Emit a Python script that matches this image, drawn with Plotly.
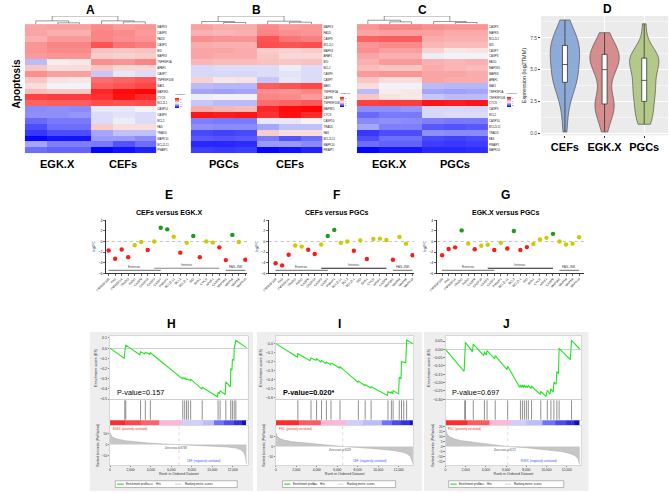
import plotly.graph_objects as go

W, H = 669, 493
FONT = "Liberation Sans"

# ---------------- data ----------------
genes = ["TNFRSF10B", "FAS", "TNFRSF1A", "TRADD", "FADD", "CASP8", "CASP10", "CASP3", "CASP7",
         "PMAIP1", "BCL2L11", "BCL2", "BCL2L1", "BID", "BAK1", "CYCS", "APAF1", "CASP9",
         "MAP3K5", "MAPK8", "MAPK9", "MAPK10"]

# log2TMM expression, 3 replicates per group, in the order of `genes`
egk_expr = [[5.4, 4.9, 4.8], [1.4, 2.0, 2.0], [3.4, 4.7, 4.8], [1.0, 1.4, 1.4], [5.8, 6.2, 6.2],
            [6.0, 5.8, 5.8], [2.5, 2.6, 2.5], [6.3, 6.6, 6.6], [6.4, 6.1, 6.1], [2.0, 1.8, 1.8],
            [3.0, 2.3, 2.3], [1.9, 2.2, 2.2], [7.2, 7.3, 7.3], [6.3, 6.5, 6.5], [5.0, 4.4, 4.4],
            [7.8, 7.9, 7.9], [5.4, 5.0, 5.0], [2.6, 2.6, 2.7], [5.6, 5.4, 5.4], [6.2, 6.3, 6.3],
            [6.0, 6.1, 6.1], [0.1, 0.4, 0.4]]
cef_expr = [[7.0, 7.2, 7.4], [5.3, 5.0, 5.0], [6.4, 6.3, 6.6], [3.0, 3.5, 3.5], [6.6, 6.4, 6.3],
            [6.6, 6.5, 6.2], [4.2, 4.2, 4.6], [7.5, 6.9, 6.7], [3.6, 4.2, 4.0], [0.1, 0.3, 0.6],
            [2.2, 1.5, 2.0], [4.0, 4.3, 4.0], [7.6, 7.5, 7.6], [5.5, 5.4, 5.5], [7.3, 7.5, 7.7],
            [8.1, 8.7, 8.2], [5.4, 5.1, 5.1], [4.0, 4.1, 4.0], [8.3, 8.8, 8.9], [5.3, 5.2, 5.3],
            [6.5, 6.2, 6.3], [2.8, 2.8, 2.5]]
pgc_expr = [[3.6, 3.4, 3.4], [1.3, 1.2, 1.3], [3.0, 2.9, 3.0], [2.6, 2.5, 2.5], [5.8, 5.7, 5.8],
            [4.3, 4.4, 4.4], [2.3, 2.2, 2.2], [6.4, 6.3, 6.3], [5.2, 4.8, 4.9], [1.1, 1.0, 1.1],
            [1.6, 1.5, 1.6], [3.9, 4.0, 4.0], [5.9, 5.8, 5.8], [5.7, 5.6, 5.6], [3.4, 3.3, 3.3],
            [8.6, 8.5, 8.6], [6.0, 5.9, 5.9], [3.9, 3.9, 3.9], [5.9, 5.7, 5.6], [6.0, 6.0, 5.9],
            [6.1, 5.9, 5.9], [0.7, 0.7, 0.8]]

rows_A = ["MAPK9", "CASP8", "FADD", "CASP3", "BID", "MAPK8", "TNFRSF1A", "APAF1", "CASP7", "TNFRSF10B",
          "BAK1", "MAP3K5", "CYCS", "BCL2L1", "CASP10", "CASP9", "BCL2", "FAS", "TRADD", "MAPK10",
          "BCL2L11", "PMAIP1"]
rows_B = ["MAPK9", "FADD", "CASP3", "BCL2L1", "MAPK8", "APAF1", "BID", "BCL2", "CASP9", "CASP7",
          "BAK1", "TNFRSF1A", "CASP8", "TNFRSF10B", "MAP3K5", "CYCS", "CASP10", "TRADD", "FAS",
          "BCL2L11", "MAPK10", "PMAIP1"]
rows_C = ["CASP3", "MAPK9", "BCL2L1", "BID", "CASP7", "CASP8", "FADD", "MAP3K5", "MAPK8", "APAF1",
          "BAK1", "TNFRSF1A", "TNFRSF10B", "CYCS", "CASP9", "BCL2", "CASP10", "BCL2L11", "TRADD",
          "FAS", "PMAIP1", "MAPK10"]

# column dendrograms (left node, right node, relative height)
links_A = [(1, 2, 0.16), (0, 6, 0.40), (4, 5, 0.28), (3, 8, 0.40), (7, 9, 1.0)]
links_B = [(1, 2, 0.20), (0, 6, 0.32), (4, 5, 0.24), (3, 8, 0.36), (7, 9, 1.0)]
links_C = [(1, 2, 0.28), (0, 6, 0.48), (4, 5, 0.20), (3, 8, 0.32), (7, 9, 1.0)]

violin_groups = ["CEFs", "EGK.X", "PGCs"]

fc_cef_egk = [-1.7, -3.25, -1.5, -2.95, -0.7, -0.1, -1.6, 0.0, 2.6, 2.3, 0.9, -2.1, -0.25, 1.05,
              -2.95, 0.0, -0.2, -1.1, -3.5, 1.25, -0.1, -3.45]
fc_cef_pgc = [-4.1, -4.5, -2.5, -0.75, -0.95, -1.55, -2.35, -0.55, 1.05, 2.2, -0.25, 0.0, -1.75, 0.2,
              -3.3, 0.5, 0.55, 0.3, -3.45, 0.85, -0.4, -2.6]
fc_egk_pgc = [-2.6, -1.4, -1.1, 2.1, -0.4, -1.45, -0.8, -0.6, -1.6, -0.25, -1.3, 2.0, -1.6, -1.05,
              -0.45, 0.4, 0.7, 1.45, 0.0, -0.55, -0.4, 0.8]
fc_titles = ["CEFs versus EGK.X", "CEFs versus PGCs", "EGK.X versus PGCs"]
path_names = ["Extrinsic", "Intrinsic", "FAS-JNK"]
path_start = [0, 7, 18]
path_end = [8, 17, 21]

# GSEA H (CEFs vs EGK.X)
H_es_rank = [0, 1380, 1440, 1540, 2910, 2980, 3390, 3450, 3880, 3940, 7050, 7110, 7260, 7300, 7440, 7480,
             7830, 7880, 8950, 9010, 10500, 10560, 10700, 10760, 11260, 11320, 11760, 11800, 11920, 11960,
             12100, 12140, 12300, 13330]
H_es_val = [0.0, -0.098, -0.035, 0.03, -0.065, -0.035, -0.055, -0.04, -0.06, -0.045, -0.30, -0.29, -0.30,
            -0.29, -0.31, -0.30, -0.318, -0.305, -0.40, -0.385, -0.478, -0.435, -0.445, -0.42, -0.455,
            -0.33, -0.38, -0.20, -0.215, -0.11, -0.12, 0.0, 0.075, 0.005]
H_hits = [1440, 1540, 2980, 3450, 3940, 7110, 7300, 7480, 7650, 7880, 9010, 10560, 10760, 11320, 11800,
          11960, 12140, 12300]
H_m_rank = [0, 150, 400, 800, 1500, 2500, 3500, 4500, 5500, 6738, 8000, 9500, 10500, 11500, 12300, 12800,
            13100, 13250, 13330]
H_m_val = [55, 38, 30, 24, 18, 12, 8, 5, 2.5, 0, -3, -6, -8, -11, -16, -24, -38, -60, -90]
H_bar_edges = [0, 1500, 3000, 4750, 7050, 9050, 10200, 11150, 12100, 12900, 13330]
H_bar_level = [1.0, 0.94, 0.88, 0.72, 0.42, 0.36, 0.22, 0.15, 0.08, 0.0]
H_zero = 6738
H_pval = "P-value=0.157"
H_classes = ["EGKX", "CEF"]

# GSEA I (CEFs vs PGCs)
I_es_rank = [0, 2087, 2151, 3339, 3435, 3916, 3980, 4398, 4460, 4880, 4940, 5330, 5390, 6240, 6270, 8000,
             8060, 8670, 8730, 9250, 9310, 10900, 10960, 11250, 11290, 11430, 11460, 12000, 12060, 12230,
             12280, 12700, 12780, 13390]
I_es_val = [0.0, -0.148, -0.111, -0.189, -0.159, -0.185, -0.167, -0.204, -0.185, -0.222, -0.204, -0.233,
            -0.215, -0.27, -0.255, -0.426, -0.415, -0.463, -0.452, -0.49, -0.478, -0.574, -0.53, -0.548,
            -0.53, -0.555, -0.52, -0.556, -0.37, -0.39, -0.2, -0.21, 0.04, 0.0]
I_hits = [2151, 3435, 3980, 4460, 4940, 5390, 6270, 8060, 8730, 9310, 10960, 11290, 11460, 12060, 12280,
          12500, 12780]
I_m_rank = [0, 150, 400, 800, 1500, 2500, 3500, 4500, 5500, 6528, 8000, 9500, 10500, 11500, 12300, 12800,
            13150, 13300, 13390]
I_m_val = [14, 10, 8, 6.5, 5, 3.8, 2.8, 2, 1, 0, -1, -2, -2.8, -4, -5.5, -7, -10, -14, -17]
I_bar_edges = [0, 2200, 4400, 6800, 8500, 10340, 11300, 12200, 13070, 13390]
I_bar_level = [1.0, 0.9, 0.72, 0.42, 0.36, 0.22, 0.14, 0.08, 0.0]
I_zero = 6528
I_pval = "P-value=0.020*"
I_classes = ["PGC", "CEF"]

# GSEA J (EGK.X vs PGCs)
J_es_rank = [0, 1848, 1912, 1977, 2658, 2755, 3792, 3857, 4052, 4117, 4862, 4927, 6094, 6159, 7358, 7423,
             7553, 7618, 7747, 7812, 7942, 8006, 8136, 8201, 8460, 8525, 9368, 9433, 9951, 10081, 10340,
             10438, 10665, 10729, 10956, 11021, 11183, 11248, 12350, 12480, 13290]
J_es_val = [0.0, -0.132, -0.048, 0.042, -0.014, 0.032, -0.038, -0.014, -0.034, -0.008, -0.058, -0.038,
            -0.122, -0.102, -0.23, -0.214, -0.23, -0.214, -0.23, -0.214, -0.23, -0.218, -0.23, -0.218,
            -0.234, -0.222, -0.27, -0.254, -0.282, -0.246, -0.27, -0.238, -0.258, -0.198, -0.21, -0.134,
            -0.146, 0.006, -0.062, 0.054, 0.002]
J_hits = [1912, 1977, 2755, 3857, 4117, 4927, 6159, 7423, 7618, 7812, 8006, 8201, 8525, 9433, 10081,
          10438, 10729, 11021, 11248, 12480]
J_m_rank = [0, 150, 400, 800, 1500, 2500, 3500, 4500, 5300, 6172, 8000, 9500, 10500, 11500, 12300, 12800,
            13100, 13230, 13290]
J_m_val = [19, 13, 10, 8, 6, 4.5, 3.3, 2.2, 1.1, 0, -1.2, -2.5, -3.5, -5, -7, -9, -12, -15, -18]
J_bar_edges = [0, 2200, 4380, 6480, 8000, 9560, 10860, 12000, 12800, 13290]
J_bar_level = [1.0, 0.9, 0.72, 0.42, 0.36, 0.22, 0.14, 0.08, 0.0]
J_zero = 6172
J_pval = "P-value=0.697"
J_classes = ["PGC", "EGKX"]

rank_ticks = [0, 2000, 4000, 6000, 8000, 10000, 12000]

# ---------------- helpers ----------------
traces, shapes, annots = [], [], []
axes = {}
counter = [0]
BASE = dict(showgrid=False, zeroline=False, showticklabels=False, ticks='', showline=False, fixedrange=True,
            autorange=False)


def new_axes(x0, x1, y0, y1, xkw=None, ykw=None):
    counter[0] += 1
    s = '' if counter[0] == 1 else str(counter[0])
    xa = dict(BASE); xa.update(domain=[x0 / W, x1 / W], anchor='y' + s); xa.update(xkw or {})
    ya = dict(BASE); ya.update(domain=[1 - y1 / H, 1 - y0 / H], anchor='x' + s); ya.update(ykw or {})
    axes['xaxis' + s] = xa
    axes['yaxis' + s] = ya
    return 'x' + s, 'y' + s


def text(x, y, s, size, color='#000', bold=False, angle=0, xa='center', ya='middle', xref=None, yref=None):
    a = dict(text=f"<b>{s}</b>" if bold else s, showarrow=False,
             font=dict(family=FONT, size=size, color=color), textangle=angle,
             xanchor=xa, yanchor=ya, borderpad=0)
    a.update(x=x, xref=xref) if xref else a.update(x=x / W, xref='paper')
    a.update(y=y, yref=yref) if yref else a.update(y=1 - y / H, yref='paper')
    annots.append(a)


def prect(x0, y0, x1, y1, fill, line=None, lw=0):
    shapes.append(dict(type='rect', xref='paper', yref='paper', x0=x0 / W, x1=x1 / W, y0=1 - y1 / H,
                       y1=1 - y0 / H, fillcolor=fill, line=dict(color=line or fill, width=lw), layer='below'))


def pline(x0, y0, x1, y1, color, width):
    shapes.append(dict(type='line', xref='paper', yref='paper', x0=x0 / W, x1=x1 / W, y0=1 - y0 / H,
                       y1=1 - y1 / H, line=dict(color=color, width=width), layer='above'))


# ---------------- heatmaps A, B, C ----------------
HEAT_CS = [[0, '#0000ff'], [0.5, '#f8f8f8'], [1, '#ff0000']]


def heat_panel(x0, x1, left, right, groups, rows, links, cbx, cby, letter):
    xa, ya = new_axes(x0, x1, 15, 153.3, dict(range=[-0.5, 5.5]),
                      dict(range=[21.5, -1.9], side='right', showticklabels=True,
                           tickvals=list(range(len(rows))), ticktext=rows,
                           tickfont=dict(family=FONT, size=2.8, color='#222')))
    idx = [genes.index(g) for g in rows]
    z = [left[i] + right[i] for i in idx]
    traces.append(go.Heatmap(
        z=z, x=list(range(6)), y=list(range(len(rows))), xaxis=xa, yaxis=ya, colorscale=HEAT_CS,
        zmin=0, zmax=9, hoverinfo='skip',
        colorbar=dict(x=cbx / W, xanchor='left', y=1 - cby / H, yanchor='top', len=18, lenmode='pixels',
                      thickness=3.5, thicknessmode='pixels', outlinewidth=0, xpad=0, ypad=0,
                      tickfont=dict(family=FONT, size=2.4, color='#333'), tickvals=[2, 4, 6, 8], ticks='',
                      title=dict(text='log2TMM', side='top', font=dict(family=FONT, size=2.4)))))
    pos = {i: float(i) for i in range(6)}
    hgt = {i: 0.0 for i in range(6)}
    dx, dy = [], []

    def yb(h):
        return -0.5 - 1.38 * h
    for k, (a, b, h) in enumerate(links):
        dx += [pos[a], pos[a], pos[b], pos[b], None]
        dy += [yb(hgt[a]), yb(h), yb(h), yb(hgt[b]), None]
        pos[6 + k] = (pos[a] + pos[b]) / 2
        hgt[6 + k] = h
    traces.append(go.Scatter(x=dx, y=dy, mode='lines', line=dict(color='#555', width=0.6),
                             xaxis=xa, yaxis=ya, hoverinfo='skip'))
    w = x1 - x0
    text(x0 + 0.25 * w, 164, groups[0], 11, bold=True)
    text(x0 + 0.75 * w, 164, groups[1], 11, bold=True)
    text((x0 + x1) / 2, 9, letter, 12, bold=True)


heat_panel(14, 147.7, egk_expr, cef_expr, ["EGK.X", "CEFs"], rows_A, links_A, 167, 90, "A")
heat_panel(182.7, 316.7, pgc_expr, cef_expr, ["PGCs", "CEFs"], rows_B, links_B, 335, 89, "B")
heat_panel(351.7, 485, egk_expr, pgc_expr, ["EGK.X", "PGCs"], rows_C, links_C, 504, 89, "C")
text(6, 83, "Apoptosis", 10, bold=True, angle=-90)

# ---------------- violin D ----------------
prect(539, 15, 668, 135, '#ebebeb')
vpos = list(range(1, len(violin_groups) + 1))
xa, ya = new_axes(539, 668, 15, 135,
                  dict(range=[0.4, 3.6], tickvals=vpos, ticktext=violin_groups,
                       showticklabels=True, tickfont=dict(family=FONT, size=11, color='#000', weight='bold'),
                       ticks='outside', ticklen=2, tickcolor='#333', showgrid=True, gridcolor='white', gridwidth=1),
                  dict(range=[-0.156, 9.22], tickvals=[0, 2.5, 5, 7.5], ticktext=['0.0', '2.5', '5.0', '7.5'],
                       showticklabels=True, tickfont=dict(family=FONT, size=5, color='#4d4d4d'),
                       ticks='outside', ticklen=2, tickcolor='#333', showgrid=True, gridcolor='white', gridwidth=1,
                       minor=dict(tickvals=[1.25, 3.75, 6.25, 8.75], showgrid=True, gridcolor='white', gridwidth=0.5),
                       title=dict(text='Expression (log2TMM)', font=dict(family=FONT, size=5.5, color='#222'),
                                  standoff=3)))
v_fill = ['rgba(125,160,210,0.85)', 'rgba(210,125,125,0.85)', 'rgba(170,195,120,0.85)']
for p, name, expr, fc in zip(vpos, violin_groups, [cef_expr, egk_expr, pgc_expr], v_fill):
    vals = [v for g in expr for v in g]
    traces.append(go.Violin(x=[p] * len(vals), y=vals, xaxis=xa, yaxis=ya, name=name,
                            fillcolor=fc, line=dict(color='#555', width=0.7),
                            box=dict(visible=True, width=0.17, fillcolor='white', line=dict(color='#222', width=0.7)),
                            meanline_visible=False, points=False, spanmode='hard', scalemode='count',
                            width=0.74, hoverinfo='skip'))
text(606, 8, "D", 12, bold=True)

# ---------------- dot plots E, F, G ----------------


def dot_color(v):
    return '#ff1a1a' if v < -1 else ('#1e9a1e' if v > 1 else '#cccc00')


def fc_panel(x0, x1, xr, vals, title, letter, cx, intr_color):
    xa, ya = new_axes(x0, x1, 220, 274,
                      dict(range=xr, showline=True, linecolor='#000', linewidth=0.8, ticks='outside', ticklen=2,
                           tickwidth=0.6, tickcolor='#000', showticklabels=True, tickvals=list(range(len(genes))),
                           ticktext=genes, tickangle=-45, tickfont=dict(family=FONT, size=3.1, color='#222')),
                      dict(range=[-6, 4.13], showline=True, linecolor='#000', linewidth=0.8, ticks='outside',
                           ticklen=2, tickwidth=0.6, tickcolor='#000', showticklabels=True,
                           tickvals=[-6, -4, -2, 0, 2, 4], tickfont=dict(family=FONT, size=3.6, color='#222'),
                           title=dict(text='log2FC', font=dict(family=FONT, size=3.4), standoff=2)))
    shapes.append(dict(type='line', xref=xa, yref=ya, x0=xr[0], x1=xr[1], y0=0, y1=0,
                       line=dict(color='#999', width=0.6, dash='dot'), layer='below'))
    traces.append(go.Scatter(x=list(range(len(vals))), y=vals, mode='markers', xaxis=xa, yaxis=ya,
                             marker=dict(size=4.4, color=[dot_color(v) for v in vals]), hoverinfo='skip'))
    for name, s, e, lev, col in zip(path_names, path_start, path_end, [-5.44, -5.05, -5.44],
                                    ['#888', intr_color, '#888']):
        shapes.append(dict(type='line', xref=xa, yref=ya, x0=s, x1=e, y0=lev, y1=lev,
                           line=dict(color=col, width=1.1)))
        text((s + e) / 2, lev + 0.12, name, 3.3, color='#444', ya='bottom', xref=xa, yref=ya)
    text(cx, 195, letter, 12, bold=True)
    text(cx, 213, title, 7, bold=True)


fc_panel(96.5, 240, [-0.42, 21.26], fc_cef_egk, fc_titles[0], "E", 161, '#888')
fc_panel(262, 410, [-1.06, 21.27], fc_cef_pgc, fc_titles[1], "F", 331, '#222')
fc_panel(433, 583, [-0.8, 21.82], fc_egk_pgc, fc_titles[2], "G", 503, '#222')

# ---------------- GSEA H, I, J ----------------
BAR_CS = [[0, '#1010cc'], [0.1, '#3a3ae6'], [0.2, '#6464ff'], [0.3, '#a4a4ff'], [0.4, '#ccccff'],
          [0.5, '#dcd6ff'], [0.65, '#ffc4e6'], [0.75, '#ffb0d4'], [0.85, '#ff707c'], [1, '#ff2a2a']]
RR = [0, 13460]
GR = '#c4c4c4'


def gsea_panel(bx0, bx1, left, right, es_rank, es_val, es_range, es_dtick, es_fmt, hits, m_rank, m_val,
               m_range, m_ticks, bar_edges, bar_level, zero, pval, pbold, classes, lg, letter):
    prect(bx0, 333, bx1, 493, '#eeeeee')
    prect(left, 337, right, 467, 'white')
    text((bx0 + bx1) / 2, 325, letter, 12, bold=True)
    tf = dict(family=FONT, size=3.3, color='#333')
    # ES
    xa, ya = new_axes(left, right, 337, 401,
                      dict(range=RR, showline=True, mirror=True, linecolor=GR, linewidth=0.6),
                      dict(range=es_range, showline=True, mirror=True, linecolor=GR, linewidth=0.6,
                           showticklabels=True, tick0=0, dtick=es_dtick, tickformat=es_fmt, ticks='outside',
                           ticklen=1.5, tickcolor='#888', tickfont=dict(family=FONT, size=3.8, color='#333'),
                           zeroline=True, zerolinecolor='#b0b0b0', zerolinewidth=0.6,
                           title=dict(text='Enrichment score (ES)', font=dict(family=FONT, size=3.8, color='#333'),
                                      standoff=2)))
    traces.append(go.Scatter(x=es_rank, y=es_val, mode='lines', line=dict(color='#22e622', width=1.1),
                             xaxis=xa, yaxis=ya, hoverinfo='skip'))
    text(left + 6, 394, pval, 7.3, bold=pbold, xa='left')
    # hits
    xa, ya = new_axes(left, right, 401, 421.7,
                      dict(range=RR, showline=True, mirror=True, linecolor=GR, linewidth=0.6),
                      dict(range=[0, 1], showline=True, mirror=True, linecolor=GR, linewidth=0.6))
    hx, hy = [], []
    for r in hits:
        hx += [r, r, None]
        hy += [0.02, 0.96, None]
    traces.append(go.Scatter(x=hx, y=hy, mode='lines', line=dict(color='#444', width=0.6),
                             xaxis=xa, yaxis=ya, hoverinfo='skip'))
    # colour bar
    xa, ya = new_axes(left, right, 421.7, 427, dict(range=RR), dict(range=[0, 1]))
    traces.append(go.Heatmap(x=bar_edges, y=[0, 1], z=[bar_level], zmin=0, zmax=1, colorscale=BAR_CS,
                             showscale=False, xaxis=xa, yaxis=ya, hoverinfo='skip'))
    # ranked metric
    xa, ya = new_axes(left, right, 427, 467,
                      dict(range=RR, showline=True, mirror=True, linecolor=GR, linewidth=0.6,
                           showticklabels=True, tickvals=rank_ticks, tickformat=',d', ticks='outside',
                           ticklen=1.5, tickcolor='#888', tickfont=tf,
                           title=dict(text='Rank in Ordered Dataset', font=dict(family=FONT, size=3.6, color='#333'),
                                      standoff=1)),
                      dict(range=m_range, showline=True, mirror=True, linecolor=GR, linewidth=0.6,
                           showticklabels=True, tickvals=m_ticks, ticks='outside', ticklen=1.5, tickcolor='#888',
                           tickfont=tf,
                           title=dict(text='Ranked list metric (PreRanked)',
                                      font=dict(family=FONT, size=3.1, color='#333'), standoff=2)))
    traces.append(go.Scatter(x=m_rank, y=m_val, mode='lines', fill='tozeroy', fillcolor='#c6c6c6',
                             line=dict(color='#a8a8a8', width=0.5), xaxis=xa, yaxis=ya, hoverinfo='skip'))
    shapes.append(dict(type='line', xref=xa, yref=ya, x0=zero, x1=zero, y0=m_range[0], y1=m_range[1],
                       line=dict(color='#bbbbbb', width=0.5, dash='dot')))
    text(zero - 300, 0, f"Zero cross at {zero}", 2.6, color='#444', ya='top', xref=xa, yref=ya)
    text(200, m_range[1] - (m_range[1] - m_range[0]) * 0.02, f"{classes[0]}  (positively correlated)", 2.7,
         color='#ff2020', xa='left', ya='top', xref=xa, yref=ya)
    text(7400, m_range[0] + (m_range[1] - m_range[0]) * 0.03, f"{classes[1]}  (negatively correlated)", 2.7,
         color='#2f55ff', xa='left', ya='bottom', xref=xa, yref=ya)
    # legend
    lx0, lx1 = lg
    lw = lx1 - lx0
    prect(lx0, 482.7, lx1, 489.5, 'white', '#777', 0.5)
    pline(lx0 + 0.015 * lw, 486.1, lx0 + 0.07 * lw, 486.1, '#22e622', 1.2)
    text(lx0 + 0.08 * lw, 486.1, "Enrichment profile", 2.8, color='#222', xa='left')
    pline(lx0 + 0.27 * lw, 486.1, lx0 + 0.31 * lw, 486.1, '#444', 0.6)
    text(lx0 + 0.325 * lw, 486.1, "Hits", 2.8, color='#222', xa='left')
    pline(lx0 + 0.49 * lw, 486.1, lx0 + 0.54 * lw, 486.1, '#c0c0c0', 0.8)
    text(lx0 + 0.56 * lw, 486.1, "Ranking metric scores", 2.8, color='#222', xa='left')


gsea_panel(80, 246, 100.7, 240.7, H_es_rank, H_es_val, [-0.505, 0.12], 0.1, '.1f', H_hits, H_m_rank, H_m_val,
           [-94, 87.7], [-50, 0, 50], H_bar_edges, H_bar_level, H_zero, H_pval, False, H_classes, (106, 230), "H")
gsea_panel(250, 418, 269.3, 409.3, I_es_rank, I_es_val, [-0.619, 0.085], 0.1, '.1f', I_hits, I_m_rank, I_m_val,
           [-18.7, 21.3], [-10, 0, 10], I_bar_edges, I_bar_level, I_zero, I_pval, True, I_classes, (276, 391), "I")
gsea_panel(420, 587, 441.7, 580, J_es_rank, J_es_val, [-0.302, 0.0805], 0.05, '.2f', J_hits, J_m_rank, J_m_val,
           [-18.7, 21.3], [-15, -10, -5, 0, 5, 10, 15, 20], J_bar_edges, J_bar_level, J_zero, J_pval, False,
           J_classes, (445, 562), "J")

# ---------------- figure ----------------
fig = go.Figure(data=traces)
fig.update_layout(width=W, height=H, margin=dict(l=0, r=0, t=0, b=0), paper_bgcolor='white',
                  plot_bgcolor='rgba(0,0,0,0)', showlegend=False, font=dict(family=FONT),
                  violinmode='overlay', shapes=shapes, annotations=annots, **axes)
fig.write_html("out.html", config={'displayModeBar': False, 'staticPlot': True},
               post_script="document.body.style.margin='0px';document.body.style.padding='0px';")
